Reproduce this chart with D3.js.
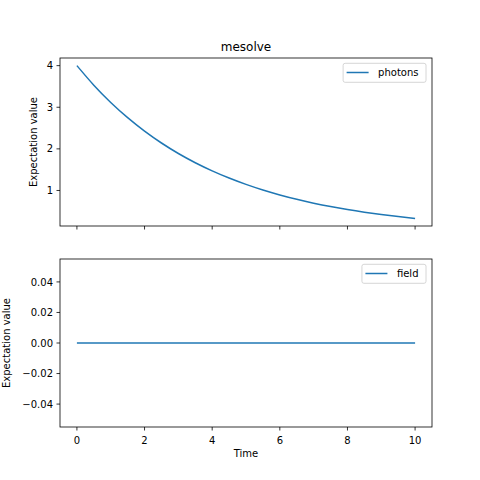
<!DOCTYPE html>
<html>
<head>
<meta charset="utf-8">
<script src="https://cdn.jsdelivr.net/npm/d3@7"></script>
<style>
  body { margin: 0; background: #fff; }
  text { font-family: "DejaVu Sans", sans-serif; fill: #000; }
</style>
</head>
<body>
<svg id="chart" width="480" height="480"></svg>
<script>
// values
var times = [0, 0.5, 1, 1.5, 2, 2.5, 3, 3.5, 4, 4.5, 5, 5.5, 6, 6.5, 7, 7.5, 8, 8.5, 9, 9.5, 10];
var photons = [4.000, 3.530, 3.115, 2.749, 2.426, 2.141, 1.889, 1.667, 1.472, 1.299, 1.146,
               1.011, 0.893, 0.788, 0.695, 0.613, 0.541, 0.478, 0.422, 0.372, 0.328];
var field = [0, 0, 0, 0, 0, 0, 0, 0, 0, 0, 0, 0, 0, 0, 0, 0, 0, 0, 0, 0, 0];
var xTicks = [0, 2, 4, 6, 8, 10];
var photonTicks = [1, 2, 3, 4];
var fieldTicks = [-0.04, -0.02, 0, 0.02, 0.04];

var blue = "#1f77b4";
var left = 60, right = 432;
var svg = d3.select("#chart");

var x = d3.scaleLinear().domain([-0.5, 10.5]).range([left, right]);

function panel(top, bottom, values, yDomain, yTicks, yFmt, name, showX) {
    var y = d3.scaleLinear().domain(yDomain).range([bottom, top]);
    var g = svg.append("g");

    var line = d3.line()
        .x(function (d, i) { return x(times[i]); })
        .y(function (d) { return y(d); })
        .curve(d3.curveNatural);

    g.append("path")
        .datum(values)
        .attr("d", line)
        .attr("fill", "none")
        .attr("stroke", blue)
        .attr("stroke-width", 1.5);

    // spines
    g.append("rect")
        .attr("x", left).attr("y", top)
        .attr("width", right - left).attr("height", bottom - top)
        .attr("fill", "none").attr("stroke", "#000").attr("stroke-width", 0.8);

    // y ticks
    yTicks.forEach(function (t) {
        var yy = y(t);
        g.append("line")
            .attr("x1", left - 3.5).attr("x2", left)
            .attr("y1", yy).attr("y2", yy)
            .attr("stroke", "#000").attr("stroke-width", 0.8);
        g.append("text")
            .attr("x", left - 7).attr("y", yy).attr("dy", "0.36em")
            .attr("text-anchor", "end").attr("font-size", 10)
            .text(yFmt(t));
    });

    // x ticks
    xTicks.forEach(function (t) {
        var xx = x(t);
        g.append("line")
            .attr("x1", xx).attr("x2", xx)
            .attr("y1", bottom).attr("y2", bottom + 3.5)
            .attr("stroke", "#000").attr("stroke-width", 0.8);
        if (showX) {
            g.append("text")
                .attr("x", xx).attr("y", bottom + 16.5)
                .attr("text-anchor", "middle").attr("font-size", 10)
                .text(t);
        }
    });

    // y label
    var cy = (top + bottom) / 2;
    var lx = showX ? 10 : 36.5;
    g.append("text")
        .attr("transform", "translate(" + lx + "," + cy + ") rotate(-90)")
        .attr("text-anchor", "middle").attr("font-size", 10)
        .text("Expectation value");

    // legend
    var lg = g.append("g");
    var txt = lg.append("text")
        .attr("font-size", 10)
        .text(name);
    var tw = txt.node().getComputedTextLength();
    var bw = tw + 42.5, bx = right - 6 - bw, by = top + 5.3, bh = 19;
    lg.insert("rect", "text")
        .attr("x", bx).attr("y", by)
        .attr("width", bw).attr("height", bh)
        .attr("rx", 2)
        .attr("fill", "#fff").attr("fill-opacity", 0.8)
        .attr("stroke", "#ccc").attr("stroke-width", 0.8);
    lg.insert("line", "text")
        .attr("x1", bx + 3.5).attr("x2", bx + 25.5)
        .attr("y1", by + 9.2).attr("y2", by + 9.2)
        .attr("stroke", blue).attr("stroke-width", 1.5);
    txt.attr("x", bx + 35).attr("y", by + 9.2).attr("dy", "0.36em");

    return g;
}

panel(58, 226, photons, [0.1465, 4.1835], photonTicks, d3.format("d"), "photons", false);
panel(259, 427, field, [-0.055, 0.055], fieldTicks,
    function (v) { return d3.format(".2f")(v).replace("-", "\u2212"); }, "field", true);

svg.append("text")
    .attr("x", (left + right) / 2).attr("y", 50.5)
    .attr("text-anchor", "middle").attr("font-size", 12)
    .text("mesolve");

svg.append("text")
    .attr("x", (left + right) / 2).attr("y", 456.5)
    .attr("text-anchor", "middle").attr("font-size", 10)
    .text("Time");
</script>
</body>
</html>
